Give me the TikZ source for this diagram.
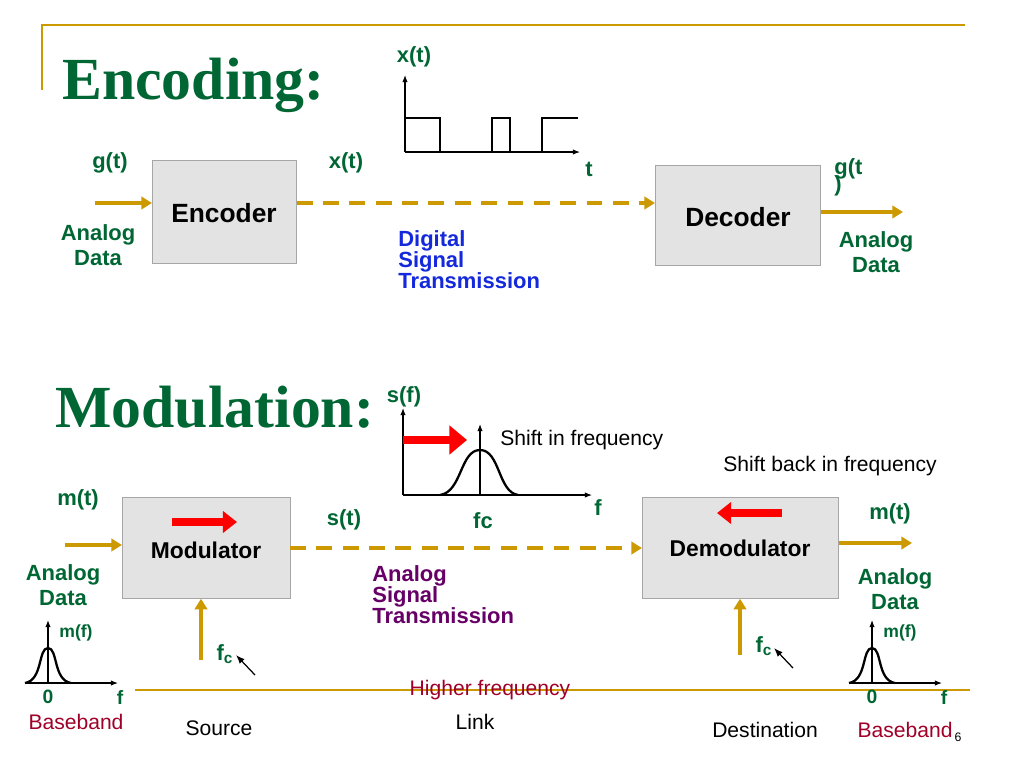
\documentclass[tikz,border=0pt]{standalone}
\usepackage{fontspec}
\setmainfont{Liberation Sans}
\newfontfamily\serifb{Liberation Serif}
\usetikzlibrary{arrows.meta}
\definecolor{dgreen}{RGB}{0,102,51}
\definecolor{gold}{RGB}{204,153,0}
\definecolor{tblue}{RGB}{20,40,220}
\definecolor{tpurp}{RGB}{102,0,102}
\definecolor{bred}{RGB}{160,0,40}
\begin{document}
\begin{tikzpicture}[x=0.02cm,y=-0.02cm,
 box/.style 2 args={draw=gray!70,fill=gray!22,minimum width=#1*0.02cm,minimum height=#2*0.02cm,inner sep=0,anchor=north west},
 lbl/.style={font=\fontsize{12.5}{14}\selectfont\bfseries,text=dgreen,inner sep=0,align=center},
 gar/.style={gold,line width=2.3pt,-{Triangle[length=6pt,width=7pt]}},
 dar/.style={gold,line width=2.3pt,dash pattern=on 9pt off 6pt,-{Triangle[length=6pt,width=7pt]}},
 ax/.style={line width=0.6pt,-{Latex[length=4pt]}},
 bell/.style={line width=1.3pt},
 ttl/.style={font=\serifb\fontsize{34}{36}\selectfont\bfseries,text=dgreen,anchor=west,inner sep=0},
 plain/.style={font=\fontsize{12}{13}\selectfont,inner sep=0}]
\useasboundingbox (0,0) rectangle (1024,768);
% frame
\draw[gold,line width=1pt] (42,90) -- (42,25) -- (965,25);
\draw[gold,line width=1.2pt] (135,690) -- (970,690);
% titles
\node[ttl] (t1) at (62,85) {Encoding:};
\node[ttl] (t2) at (55,407) {Modulation:};
% encoding
\node[box={144}{103}] (enc) at (152,160) {};
\node[font=\fontsize{15}{16}\selectfont\bfseries,inner sep=0] at (224,213) {Encoder};
\node[box={165}{100}] (dec) at (655,165) {};
\node[font=\fontsize{15}{16}\selectfont\bfseries,inner sep=0] at (738,217) {Decoder};
\coordinate (gin) at (95,203);
\draw[gar] (gin) -- (enc.west|-gin);
\draw[dar] (enc.east|-gin) -- (dec.west|-gin);
\coordinate (gout) at (903,212);
\draw[gar] (dec.east|-gout) -- (gout);
\node[lbl] at (110,163) {g(t)};
\node[lbl] at (98,245) {Analog\\Data};
\node[lbl] at (346,163) {x(t)};
\node[lbl,align=left,anchor=north west] at (834,158) {g(t\\[-4pt])};
\node[lbl] at (876,252) {Analog\\Data};
\node[lbl,text=tblue,align=left,anchor=north west] at (398,230) {Digital\\[-2pt]Signal\\[-2pt]Transmission};
% x(t) plot
\coordinate (xo) at (405,152);
\coordinate (xy) at (405,75);
\coordinate (xx) at (580,152);
\draw[ax] (xo) -- (xy);
\draw[ax] (xo) -- (xx);
\draw[line width=1.3pt] (405,118) -- (440,118) -- (440,152) -- (492,152) -- (492,118) -- (510,118) -- (510,152) -- (542,152) -- (542,118) -- (578,118);
\node[lbl] at (414,57) {x(t)};
\node[lbl] at (589,169) {t};
% modulation
\node[box={168}{101}] (mod) at (122,497) {};
\node[font=\fontsize{13}{14}\selectfont\bfseries,inner sep=0] at (206,550) {Modulator};
\node[box={196}{101}] (dem) at (642,497) {};
\node[font=\fontsize{13}{14}\selectfont\bfseries,inner sep=0] at (740,548) {Demodulator};
\draw[red,line width=4pt,-{Triangle[length=8pt,width=12pt]}] (172,522) -- (237,522);
\draw[red,line width=4pt,-{Triangle[length=8pt,width=12pt]}] (782,513) -- (717,513);
\coordinate (min) at (65,545);
\draw[gar] (min) -- (mod.west|-min);
\coordinate (sm) at (290,548);
\draw[dar] (sm) -- (dem.west|-sm);
\coordinate (mout) at (912,543);
\draw[gar] (dem.east|-mout) -- (mout);
\coordinate (fc1) at (201,660);
\draw[gar] (fc1) -- (mod.south-|fc1);
\coordinate (fc2) at (740,655);
\draw[gar] (fc2) -- (dem.south-|fc2);
\coordinate (a1s) at (255,675); \coordinate (a1e) at (236,655);
\draw[-{Latex[length=5pt]},line width=0.7pt] (a1s) -- (a1e);
\coordinate (a2s) at (793,668); \coordinate (a2e) at (774,648);
\draw[-{Latex[length=5pt]},line width=0.7pt] (a2s) -- (a2e);
\node[lbl] at (78,500) {m(t)};
\node[lbl] at (63,585) {Analog\\Data};
\node[lbl] at (344,520) {s(t)};
\node[lbl] at (483,521) {fc};
\node[lbl] at (598,508) {f};
\node[lbl] at (890,514) {m(t)};
\node[lbl] at (895,589) {Analog\\Data};
\node[lbl] at (225,654) {f$_{\mathbf c}$};
\node[lbl] at (764,646) {f$_{\mathbf c}$};
\node[lbl,text=tpurp,align=left,anchor=north west] at (372,565) {Analog\\[-2pt]Signal\\[-2pt]Transmission};
% s(f) plot
\coordinate (so) at (403,495);
\coordinate (sy) at (403,408);
\coordinate (sx) at (592,495);
\draw[ax] (so) -- (sy);
\draw[ax] (so) -- (sx);
\draw[red,line width=5pt,-{Triangle[length=10pt,width=16pt]}] (403,440) -- (467,440);
\coordinate (sb) at (480,495); \coordinate (st) at (480,424);
\draw[ax] (sb) -- (st);
\draw[bell] (440,495) .. controls (462,492) and (460,450) .. (480,450) .. controls (500,450) and (498,492) .. (518,495);
\node[lbl] at (404,397) {s(f)};
\node[plain,anchor=west] at (500,440) {Shift in frequency};
\node[plain,anchor=west] at (723,466) {Shift back in frequency};
% m(f) plots
\foreach \cx/\nm in {48/L,872/R}{
 \coordinate (o\nm) at (\cx-22,683);
 \coordinate (y\nm) at (\cx,620);
 \coordinate (x\nm) at (\cx+70,683);
 \coordinate (b\nm) at (\cx,683);
 \draw[ax] (b\nm) -- (y\nm);
 \draw[ax] (o\nm) -- (x\nm);
 \draw[bell] (\cx-23,683) .. controls (\cx-5,680) and (\cx-10,648) .. (\cx,648) .. controls (\cx+10,648) and (\cx+5,680) .. (\cx+23,683);
 \node[lbl,font=\fontsize{10}{11}\selectfont\bfseries] at (\cx+28,633) {m(f)};
 \node[lbl,font=\fontsize{11}{12}\selectfont\bfseries] at (\cx,697) {0};
 \node[lbl,font=\fontsize{11}{12}\selectfont\bfseries] at (\cx+72,697) {f};
}
\node[plain,text=bred] at (76,722) {Baseband};
\node[plain,text=bred] at (905,730) {Baseband};
\node[plain] at (219,728) {Source};
\node[plain] at (475,722) {Link};
\node[plain] at (765,730) {Destination};
\node[plain,text=bred] at (490,690) {Higher frequency};
\node[plain,font=\fontsize{7}{8}\selectfont] at (958,737) {6};
\end{tikzpicture}
\end{document}
